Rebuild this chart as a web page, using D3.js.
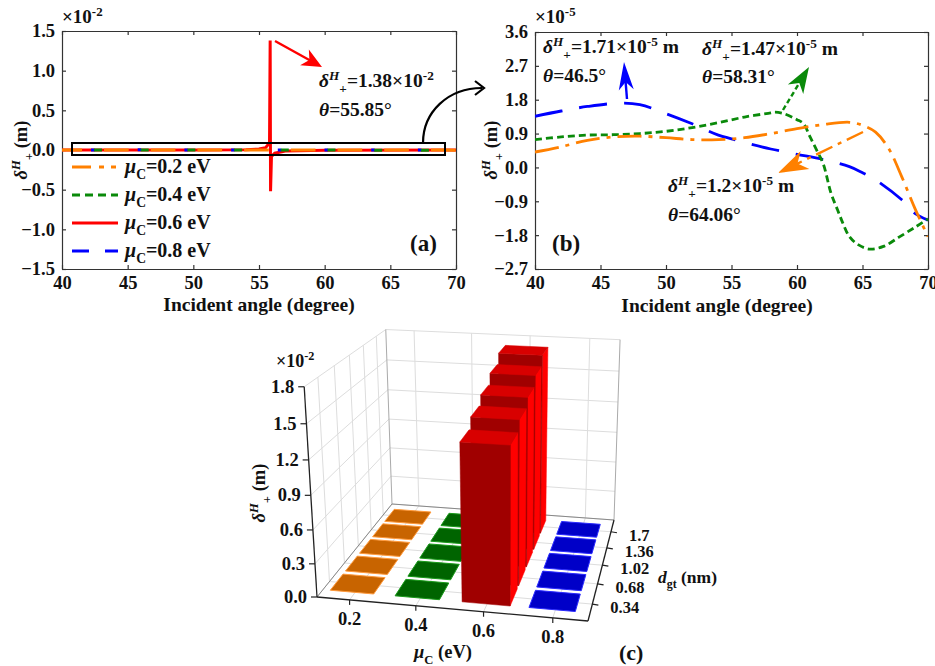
<!DOCTYPE html>
<html>
<head>
<meta charset="utf-8">
<script src="https://cdn.jsdelivr.net/npm/d3@7"></script>
<style>
body { margin: 0; background: #fff; }
text { font-family: "Liberation Serif", serif; font-weight: bold; fill: #111; }
.axis path, .axis line { stroke: #333; stroke-width: 1.2; }
.axis text { font-size: 18.5px; font-family: "Liberation Serif", serif; font-weight: bold; fill: #111; }
</style>
</head>
<body>
<svg id="fig" width="935" height="666"></svg>
<script>
// curve values are read in units of 1e-5 m, panel (b)
var orangeAngle = [40, 42, 44, 46, 48, 50, 52, 54, 56, 58, 60, 62, 64, 65, 66, 67, 68, 69, 70];
var orangeValue = [0.41, 0.55, 0.72, 0.81, 0.83, 0.79, 0.74, 0.74, 0.79, 0.9, 1.03, 1.14, 1.2, 1.12, 0.94, 0.5, -0.25, -1.09, -1.84];
var greenAngle = [40, 42, 44, 46, 48, 50, 52, 54, 56, 58, 58.31, 59, 60, 60.5, 61, 61.5, 62, 62.6, 63.1, 63.5, 64, 64.7, 65.55, 66.6, 67.85, 69.1, 70];
var greenValue = [0.74, 0.81, 0.86, 0.87, 0.9, 0.96, 1.06, 1.19, 1.34, 1.45, 1.47, 1.43, 1.27, 1.16, 0.81, 0.46, 0.1, -0.69, -1.13, -1.48, -1.84, -2.06, -2.17, -2.1, -1.84, -1.57, -1.37];
var blueAngle = [40, 42, 44, 46.5, 48, 50, 52, 54, 55, 56, 58, 60, 62, 64, 65, 66, 68, 69, 70];
var blueValue = [1.36, 1.5, 1.62, 1.71, 1.67, 1.43, 1.16, 0.86, 0.76, 0.66, 0.49, 0.35, 0.21, 0.02, -0.14, -0.33, -0.86, -1.22, -1.4];
// red one only fits on panel (a), units of 1e-2 m
var redAngle = [40, 50, 54, 55, 55.5, 55.8, 55.85, 55.88, 55.95, 56.2, 57, 60, 70];
var redValue = [0, 0.001, 0.004, 0.012, 0.03, 0.09, 1.38, -0.52, -0.08, -0.04, -0.012, -0.002, 0];

var muLabels = ["0.2", "0.4", "0.6", "0.8"];
var dgtLabels = ["0.34", "0.68", "1.02", "1.36", "1.7"];
var zTicks = [0, 0.3, 0.6, 0.9, 1.2, 1.5, 1.8];
// peak per mu / dgt, units of 1e-2 m
var peak02 = [0.0012, 0.0012, 0.0012, 0.0012, 0.0012];
var peak04 = [0.0015, 0.0015, 0.0015, 0.0015, 0.0015];
var peak06 = [1.38, 1.47, 1.55, 1.64, 1.73];
var peak08 = [0.0017, 0.0017, 0.0017, 0.0017, 0.0017];

var xTicks = [40, 45, 50, 55, 60, 65, 70];
var aTicks = [-1.5, -1, -0.5, 0, 0.5, 1, 1.5];
var bTicks = [-2.7, -1.8, -0.9, 0, 0.9, 1.8, 2.7, 3.6];
var legendLabels = ["0.2", "0.4", "0.6", "0.8"];

var ORANGE = "#ff8000", GREEN = "#0a8a0a", RED = "#ff0000", BLUE = "#0000ff";
var DASH = { orange: "24 7 4 7", green: "7 4", red: null, blue: "28 17" };
// on (a) the lines sit on each other, only bits of the lower ones show in the orange gaps
var DASH_A = { orange: "24.7 22", green: "8 38.7", red: null, blue: "3.5 43.2" };

var svg = d3.select("#fig");

// text with italics, sup and sub, parts are [string, kind]
function rich(parent, x, y, parts, size, rotate) {
    var t = parent.append("text")
        .attr("transform", "translate(" + x + "," + y + ")" + (rotate ? " rotate(" + rotate + ")" : ""))
        .style("font-size", size + "px");
    if (rotate) t.attr("text-anchor", "middle");
    var shift = 0;
    parts.forEach(function (p) {
        var kind = p[1] || "";
        var want = 0;
        if (kind.indexOf("sup") >= 0) want = -size * 0.38;
        if (kind.indexOf("sub") >= 0) want = size * 0.3;
        var s = t.append("tspan").text(p[0]).attr("dy", want - shift);
        shift = want;
        if (kind.indexOf("i") === 0) s.style("font-style", "italic");
        if (want !== 0) s.style("font-size", (size * 0.68) + "px");
    });
    return t;
}

var DELTA = [["δ", "i"], ["H", "i sup"], ["+", "sub"]];

function arrow(parent, x1, y1, x2, y2, color, dash, len, half) {
    var a = Math.atan2(y2 - y1, x2 - x1);
    var c = Math.cos(a), s = Math.sin(a);
    parent.append("line")
        .attr("x1", x1).attr("y1", y1)
        .attr("x2", x2 - c * len * 0.7).attr("y2", y2 - s * len * 0.7)
        .attr("stroke", color).attr("stroke-width", 2.4)
        .attr("stroke-dasharray", dash);
    var pts = [
        [x2, y2],
        [x2 - c * len - s * half, y2 - s * len + c * half],
        [x2 - c * len * 0.72, y2 - s * len * 0.72],
        [x2 - c * len + s * half, y2 - s * len - c * half]
    ];
    parent.append("polygon").attr("points", pts.join(" ")).attr("fill", color);
}

function frame(g, x, y, w, h, yTicks, fmt) {
    var box = { l: x, r: x + w, t: y, b: y + h };
    var sx = d3.scaleLinear().domain([40, 70]).range([box.l, box.r]);
    var sy = d3.scaleLinear().domain([yTicks[0], yTicks[yTicks.length - 1]]).range([box.b, box.t]);
    var ax = g.append("g").attr("class", "axes");
    ax.append("g").attr("class", "axis").attr("transform", "translate(0," + box.b + ")")
        .call(d3.axisBottom(sx).tickValues(xTicks).tickSizeInner(-4).tickSizeOuter(0).tickPadding(7).tickFormat(d3.format("d")));
    ax.append("g").attr("class", "axis").attr("transform", "translate(0," + box.t + ")")
        .call(d3.axisTop(sx).tickValues(xTicks).tickSizeInner(-4).tickSizeOuter(0).tickFormat(""));
    ax.append("g").attr("class", "axis").attr("transform", "translate(" + box.l + ",0)")
        .call(d3.axisLeft(sy).tickValues(yTicks).tickSizeInner(-4).tickSizeOuter(0).tickPadding(7).tickFormat(fmt));
    ax.append("g").attr("class", "axis").attr("transform", "translate(" + box.r + ",0)")
        .call(d3.axisRight(sy).tickValues(yTicks).tickSizeInner(-4).tickSizeOuter(0).tickFormat(""));
    return { x: sx, y: sy, ax: ax };
}

function curve(g, sc, xs, ys, k, color, dash, smooth, clipId, width) {
    var line = d3.line()
        .x(function (d, i) { return sc.x(xs[i]); })
        .y(function (d) { return sc.y(d * k); })
        .curve(smooth ? d3.curveCatmullRom.alpha(0.5) : d3.curveLinear);
    return g.append("path").datum(ys).attr("d", line)
        .attr("fill", "none").attr("stroke", color).attr("stroke-width", width)
        .attr("stroke-dasharray", dash)
        .attr("clip-path", clipId ? "url(#" + clipId + ")" : null);
}

// ---------- panel (a)
var fmtA = function (d) { return d3.format(".1f")(d); };
var A = frame(svg.append("g"), 62, 31, 394, 238, aTicks, fmtA);
var aLines = svg.append("g");
curve(aLines, A, redAngle, redValue, 1, RED, DASH_A.red, false, null, 3);
curve(aLines, A, blueAngle, blueValue, 1e-3, BLUE, DASH_A.blue, false, null, 3)
    .attr("stroke-dashoffset", -29);
curve(aLines, A, greenAngle, greenValue, 1e-3, GREEN, DASH_A.green, false, null, 3)
    .attr("stroke-dashoffset", -32);
curve(aLines, A, orangeAngle, orangeValue, 1e-3, ORANGE, DASH_A.orange, false, null, 3)
    .attr("stroke-dashoffset", 4.7);

svg.append("rect").attr("x", 72).attr("y", 143).attr("width", 373).attr("height", 12)
    .attr("fill", "none").attr("stroke", "#000").attr("stroke-width", 2);

rich(svg, 62, 23, [["×10"], ["-2", "sup"]], 19);
rich(svg, 27, 150, DELTA.concat([[" (m)"]]), 18.5, -90);
svg.append("text").attr("x", 259).attr("y", 311).attr("text-anchor", "middle").style("font-size", "19.5px").text("Incident angle (degree)");
svg.append("text").attr("x", 410).attr("y", 251).style("font-size", "23px").text("(a)");

arrow(svg, 275, 41, 322, 67, RED, null, 20, 9);
rich(svg, 319, 87, DELTA.concat([["=1.38×10"], ["-2", "sup"]]), 19.5);
rich(svg, 319, 116, [["θ", "i"], ["=55.85°"]], 19.5);

var legendColor = [ORANGE, GREEN, RED, BLUE];
var legendDash = ["19 8 5 7 5", "8 5", null, "17 16 17"];
legendLabels.forEach(function (d, i) {
    var y = 167 + i * 28;
    svg.append("line").attr("x1", 72).attr("x2", 118).attr("y1", y).attr("y2", y)
        .attr("stroke", legendColor[i]).attr("stroke-width", 2.8)
        .attr("stroke-dasharray", legendDash[i]);
    rich(svg, 125, y + 6, [["μ", "i"], ["C", "sub"], ["=" + d + " eV"]], 20);
});

// ---------- panel (b)
var B = frame(svg.append("g"), 535, 32, 393, 237, bTicks, fmtA);
svg.append("clipPath").attr("id", "clipB").append("rect")
    .attr("x", 535).attr("y", 32).attr("width", 393).attr("height", 237);
var bLines = svg.append("g");
curve(bLines, B, blueAngle, blueValue, 1, BLUE, DASH.blue, true, "clipB", 2.8);
curve(bLines, B, greenAngle, greenValue, 1, GREEN, DASH.green, true, "clipB", 2.8);
curve(bLines, B, orangeAngle, orangeValue, 1, ORANGE, DASH.orange, true, "clipB", 2.8);

rich(svg, 535, 23, [["×10"], ["-5", "sup"]], 19);
rich(svg, 497, 150, DELTA.concat([[" (m)"]]), 18.5, -90);
svg.append("text").attr("x", 717).attr("y", 312).attr("text-anchor", "middle").style("font-size", "19.5px").text("Incident angle (degree)");
svg.append("text").attr("x", 552).attr("y", 251).style("font-size", "23px").text("(b)");

arrow(svg, 627, 99, 624, 62, BLUE, null, 28, 7.5);
arrow(svg, 783, 110, 809, 67, GREEN, "5 3", 26, 9);
arrow(svg, 863, 132, 778, 173, ORANGE, "18 6 4 6", 30, 10);

rich(svg, 543, 53, DELTA.concat([["=1.71×10"], ["-5", "sup"], [" m"]]), 19.5);
rich(svg, 543, 82, [["θ", "i"], ["=46.5°"]], 19.5);
rich(svg, 702, 55, DELTA.concat([["=1.47×10"], ["-5", "sup"], [" m"]]), 19.5);
rich(svg, 702, 83, [["θ", "i"], ["=58.31°"]], 19.5);
rich(svg, 668, 192, DELTA.concat([["=1.2×10"], ["-5", "sup"], [" m"]]), 19.5);
rich(svg, 668, 221, [["θ", "i"], ["=64.06°"]], 19.5);

// curved pointer from the box in (a) over to (b)
svg.append("path").attr("d", "M423,143 C423,112 448,88 482,88")
    .attr("fill", "none").attr("stroke", "#000").attr("stroke-width", 2.2);
svg.append("path").attr("d", "M475,81 L484,88 L475,95")
    .attr("fill", "none").attr("stroke", "#000").attr("stroke-width", 2.2);

// ---------- panel (c), a small perspective projection
function solve(m, b) {
    var n = b.length, i, j, k;
    for (i = 0; i < n; i++) {
        var p = i;
        for (j = i + 1; j < n; j++) if (Math.abs(m[j][i]) > Math.abs(m[p][i])) p = j;
        var tm = m[i]; m[i] = m[p]; m[p] = tm;
        var tb = b[i]; b[i] = b[p]; b[p] = tb;
        for (j = i + 1; j < n; j++) {
            var f = m[j][i] / m[i][i];
            for (k = i; k < n; k++) m[j][k] -= f * m[i][k];
            b[j] -= f * b[i];
        }
    }
    var x = [];
    for (i = n - 1; i >= 0; i--) {
        var v = b[i];
        for (j = i + 1; j < n; j++) v -= m[i][j] * x[j];
        x[i] = v / m[i][i];
    }
    return x;
}

// cube corners as seen on the page: [u, v, pageX, pageY]
var floorCorners = [[0, 0, 317, 597], [1, 0, 588, 621], [1, 1, 614, 520], [0, 1, 392, 504]];
var topCorners = [[0, 0, 304, 387], [0, 1, 386, 330], [1, 1, 620, 339]];

var hm = [], hb = [];
floorCorners.forEach(function (c) {
    hm.push([c[0], c[1], 1, 0, 0, 0, -c[2] * c[0], -c[2] * c[1]]); hb.push(c[2]);
    hm.push([0, 0, 0, c[0], c[1], 1, -c[3] * c[0], -c[3] * c[1]]); hb.push(c[3]);
});
var h = solve(hm, hb);
// the w column, least squares over the three top corners
var rows = [], rhs = [];
topCorners.forEach(function (c) {
    var g0 = h[6] * c[0] + h[7] * c[1] + 1;
    rows.push([1, 0, -c[2]]); rhs.push(c[2] * g0 - (h[0] * c[0] + h[1] * c[1] + h[2]));
    rows.push([0, 1, -c[3]]); rhs.push(c[3] * g0 - (h[3] * c[0] + h[4] * c[1] + h[5]));
});
var nm = [0, 1, 2].map(function (i) {
    return [0, 1, 2].map(function (j) {
        return d3.sum(rows, function (r) { return r[i] * r[j]; });
    });
});
var nb = [0, 1, 2].map(function (i) {
    return d3.sum(rows, function (r, k) { return r[i] * rhs[k]; });
});
var pw = solve(nm, nb);

function proj(u, v, w) {
    var s = h[6] * u + h[7] * v + 1 + pw[2] * w;
    return [(h[0] * u + h[1] * v + h[2] + pw[0] * w) / s, (h[3] * u + h[4] * v + h[5] + pw[1] * w) / s];
}

var su = d3.scalePoint().domain(muLabels).range([0, 1]).padding(0.5);
var sv = d3.scalePoint().domain(dgtLabels).range([0.05, 0.95]).padding(0.5);
var sw = d3.scaleLinear().domain([0, 1.8]).range([0, 1]);

var c3 = svg.append("g");

function seg(a, b, color, width) {
    c3.append("line").attr("x1", a[0]).attr("y1", a[1]).attr("x2", b[0]).attr("y2", b[1])
        .attr("stroke", color).attr("stroke-width", width);
}

var GRID = "#dddddd";
// walls
zTicks.forEach(function (z) {
    seg(proj(0, 0, sw(z)), proj(0, 1, sw(z)), GRID, 1);
    seg(proj(0, 1, sw(z)), proj(1, 1, sw(z)), GRID, 1);
});
dgtLabels.forEach(function (d) {
    seg(proj(0, sv(d), 0), proj(0, sv(d), 1), GRID, 1);
    seg(proj(0, sv(d), 0), proj(1, sv(d), 0), GRID, 1);
});
muLabels.forEach(function (m) {
    seg(proj(su(m), 1, 0), proj(su(m), 1, 1), GRID, 1);
    seg(proj(su(m), 0, 0), proj(su(m), 1, 0), GRID, 1);
});
seg(proj(0, 1, 0), proj(0, 1, 1), "#aaaaaa", 1);
seg(proj(1, 1, 0), proj(1, 1, 1), "#aaaaaa", 1);
seg(proj(0, 1, 0), proj(1, 1, 0), "#888888", 1);
seg(proj(0, 0, 0), proj(0, 1, 0), "#888888", 1);

// box edges of the axes
seg(proj(0, 0, 0), proj(1, 0, 0), "#222", 1.3);
seg(proj(1, 0, 0), proj(1, 1, 0), "#222", 1.3);
seg(proj(0, 0, 0), proj(0, 0, 1), "#222", 1.3);

zTicks.forEach(function (z) {
    var p = proj(0, 0, sw(z));
    seg(p, [p[0] - 6, p[1]], "#222", 1.2);
    c3.append("text").attr("x", p[0] - 10).attr("y", p[1] + 6).attr("text-anchor", "end")
        .style("font-size", "18.5px").text(d3.format(".1f")(z));
});
muLabels.forEach(function (m) {
    var p = proj(su(m), 0, 0);
    seg(p, [p[0], p[1] + 5], "#222", 1.2);
    c3.append("text").attr("x", p[0]).attr("y", p[1] + 25).attr("text-anchor", "middle")
        .style("font-size", "18.5px").text(m);
});
dgtLabels.forEach(function (d) {
    var p = proj(1, sv(d), 0);
    seg(p, [p[0] + 6, p[1] + 1], "#222", 1.2);
    c3.append("text").attr("x", p[0] + 18).attr("y", p[1] + 9)
        .style("font-size", "16.5px").text(d);
});

var peaks = [peak02, peak04, peak06, peak08];
var barFill = [
    { top: "#c86400", edge: "#ff9a3c" },
    { top: "#006400", edge: "#1a9a1a" },
    { top: "#d80000", front: "#a00000", side: "#ff0000", edge: "#ff0000" },
    { top: "#0000c8", edge: "#2a2aff" }
];
var tileWidth = 0.168, barWidth = 0.178, rowDepth = 0.15;
var tileNudge = -0.012, barNudge = -0.004;

function poly(pts, fill, stroke) {
    c3.append("polygon").attr("points", pts.join(" ")).attr("fill", fill)
        .attr("stroke", stroke || fill).attr("stroke-width", stroke ? 1 : 0.5);
}

// back to front so that the near bars cover the far ones
d3.range(dgtLabels.length - 1, -1, -1).forEach(function (j) {
    muLabels.forEach(function (m, i) {
        var col = barFill[i];
        var du = col.front ? barWidth : tileWidth;
        var mid = su(m) + (col.front ? barNudge : tileNudge);
        var u0 = mid - du / 2, u1 = mid + du / 2;
        var v0 = sv(dgtLabels[j]) - rowDepth / 2, v1 = sv(dgtLabels[j]) + rowDepth / 2;
        var w = sw(peaks[i][j]);
        if (col.front) {
            poly([proj(u1, v0, 0), proj(u1, v1, 0), proj(u1, v1, w), proj(u1, v0, w)], col.side);
            poly([proj(u0, v0, 0), proj(u1, v0, 0), proj(u1, v0, w), proj(u0, v0, w)], col.front);
        }
        poly([proj(u0, v0, w), proj(u1, v0, w), proj(u1, v1, w), proj(u0, v1, w)], col.top, col.front ? null : col.edge);
    });
});

rich(svg, 276, 367, [["×10"], ["-2", "sup"]], 18);
rich(svg, 265, 493, DELTA.concat([[" (m)"]]), 18.5, -90);
rich(svg, 414, 658, [["μ", "i"], ["C", "sub"], [" (eV)"]], 18.5);
rich(svg, 658, 583, [["d", "i"], ["gt", "sub"], [" (nm)"]], 17.5);
svg.append("text").attr("x", 619).attr("y", 660).style("font-size", "22px").text("(c)");
</script>
</body>
</html>
